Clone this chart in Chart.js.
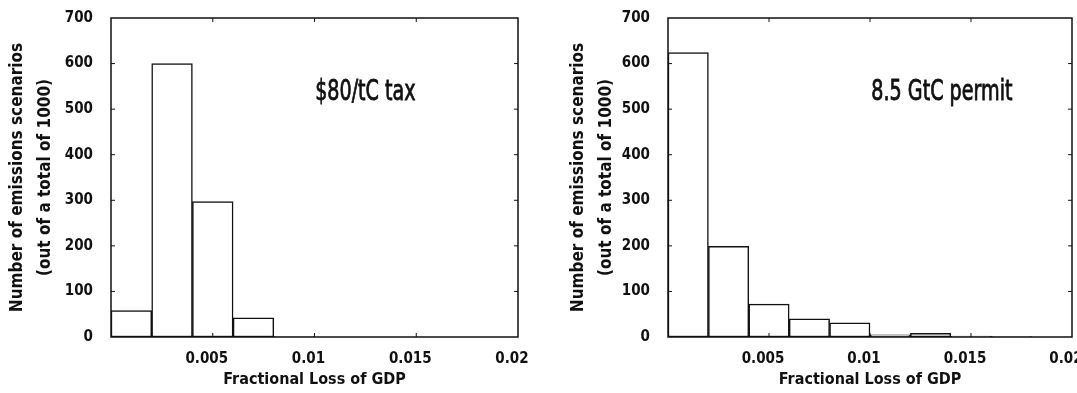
<!DOCTYPE html>
<html lang="en">
<head>
  <meta charset="UTF-8">
  <title>Fractional Loss of GDP histograms</title>
  <script src="https://cdn.jsdelivr.net/npm/chart.js"></script>
  <style>
    body { margin: 0; background: #ffffff; }
    .wrap { position: relative; width: 1077px; height: 393px; overflow: hidden; }
    #taxChart { position: absolute; left: 0; top: 0; }
    #permitChart { position: absolute; left: 538px; top: 0; }
  </style>
</head>
<body>
  <div class="wrap">
    <canvas id="taxChart" width="538" height="393"></canvas>
    <canvas id="permitChart" width="539" height="393"></canvas>
  </div>

  <script>
    // bin edges of the histograms (fractional loss of GDP)
    var binEdges = [0, 0.002, 0.004, 0.006, 0.008, 0.01, 0.012, 0.014, 0.016, 0.018, 0.02];
    // counts per bin, out of 1000 scenarios
    var taxCounts = [58, 600, 297, 42, 1, 0, 0, 0, 0, 0];
    var permitCounts = [624, 199, 72, 40, 31, 5, 8, 2, 1, 0];
    var xTicks = [0.005, 0.01, 0.015, 0.02];
    var yTicks = [0, 100, 200, 300, 400, 500, 600, 700];

    var FONT = "'Liberation Sans Narrow', 'DejaVu Sans Condensed', 'Arial Narrow', sans-serif";

    function toPoints(counts) {
      return counts.map(function (c, i) {
        return { x: (binEdges[i] + binEdges[i + 1]) / 2, y: c };
      });
    }

    // frame, inward tick marks and the in-plot caption
    var framePlugin = {
      id: 'frame',
      afterDatasetsDraw: function (chart, args, opts) {
        var ctx = chart.ctx, a = chart.chartArea;
        var x = chart.scales.x, y = chart.scales.y;
        ctx.save();
        ctx.strokeStyle = '#111';
        ctx.lineWidth = 1.5;
        ctx.strokeRect(a.left, a.top, a.right - a.left, a.bottom - a.top);
        ctx.lineWidth = 1;
        ctx.beginPath();
        x.ticks.forEach(function (t) {
          var px = x.getPixelForValue(t.value);
          if (px <= a.left + 1 || px >= a.right - 1) return;
          ctx.moveTo(px, a.top); ctx.lineTo(px, a.top + 4);
          ctx.moveTo(px, a.bottom); ctx.lineTo(px, a.bottom - 4);
        });
        y.ticks.forEach(function (t) {
          var py = y.getPixelForValue(t.value);
          if (py <= a.top + 1 || py >= a.bottom - 1) return;
          ctx.moveTo(a.left, py); ctx.lineTo(a.left + 4, py);
          ctx.moveTo(a.right, py); ctx.lineTo(a.right - 4, py);
        });
        ctx.stroke();
        // caption, squeezed sideways like the condensed face of the original
        ctx.translate(x.getPixelForValue(opts.x), y.getPixelForValue(opts.y));
        ctx.scale(0.76, 1);
        ctx.font = '28px ' + FONT;
        ctx.fillStyle = '#111';
        ctx.textAlign = 'center';
        ctx.textBaseline = 'middle';
        ctx.fillText(opts.text, 0, 0);
        ctx.lineWidth = 0.8;
        ctx.strokeText(opts.text, 0, 0);
        ctx.restore();
      }
    };

    function makeChart(id, counts, caption, capX, padLeft, yWidth, padRight) {
      var ctx = document.getElementById(id).getContext('2d');
      return new Chart(ctx, {
        type: 'bar',
        data: {
          datasets: [{
            data: toPoints(counts),
            backgroundColor: '#ffffff',
            borderColor: '#111',
            borderWidth: 1.5,
            borderSkipped: false,
            barPercentage: 1,
            categoryPercentage: 1
          }]
        },
        options: {
          responsive: false,
          animation: false,
          layout: { padding: { left: padLeft, top: 18, right: padRight, bottom: 0 } },
          plugins: {
            legend: { display: false },
            tooltip: { enabled: false },
            frame: { text: caption, x: capX, y: 537 }
          },
          scales: {
            x: {
              type: 'linear',
              min: 0,
              max: 0.02,
              offset: false,
              grid: { display: false },
              border: { display: false },
              afterBuildTicks: function (s) {
                s.ticks = [0].concat(xTicks).map(function (v) { return { value: v }; });
              },
              ticks: {
                padding: 5,
                labelOffset: -6,
                maxRotation: 0,
                autoSkip: false,
                color: '#111',
                font: { family: FONT, size: 15, weight: 'bold' },
                callback: function (v) { return v === 0 ? '' : String(v); }
              },
              title: {
                display: true,
                text: 'Fractional Loss of GDP',
                color: '#111',
                padding: { top: 0, bottom: 4 },
                font: { family: FONT, size: 16, weight: 'bold' }
              },
              afterFit: function (s) {
                s.height = 56;
                s.paddingLeft = 0;
                s.paddingRight = 0;
              }
            },
            y: {
              min: 0,
              max: 700,
              grid: { display: false },
              border: { display: false },
              afterBuildTicks: function (s) {
                s.ticks = yTicks.map(function (v) { return { value: v }; });
              },
              ticks: {
                padding: 10,
                color: '#111',
                font: { family: FONT, size: 15, weight: 'bold' }
              },
              title: {
                display: true,
                text: ['Number of emissions scenarios', '(out of a total of 1000)'],
                color: '#111',
                padding: { top: 0, bottom: 0 },
                font: { family: FONT, size: 17, weight: 'bold', lineHeight: 1.65 }
              },
              afterFit: function (s) {
                s.width = yWidth;
                s.paddingTop = 0;
                s.paddingBottom = 0;
              }
            }
          }
        },
        plugins: [framePlugin]
      });
    }

    makeChart('taxChart', taxCounts, '$80/tC tax', 0.0125, 4, 107, 20);
    makeChart('permitChart', permitCounts, '8.5 GtC permit', 0.01356, 27, 103, 5);
  </script>
</body>
</html>
